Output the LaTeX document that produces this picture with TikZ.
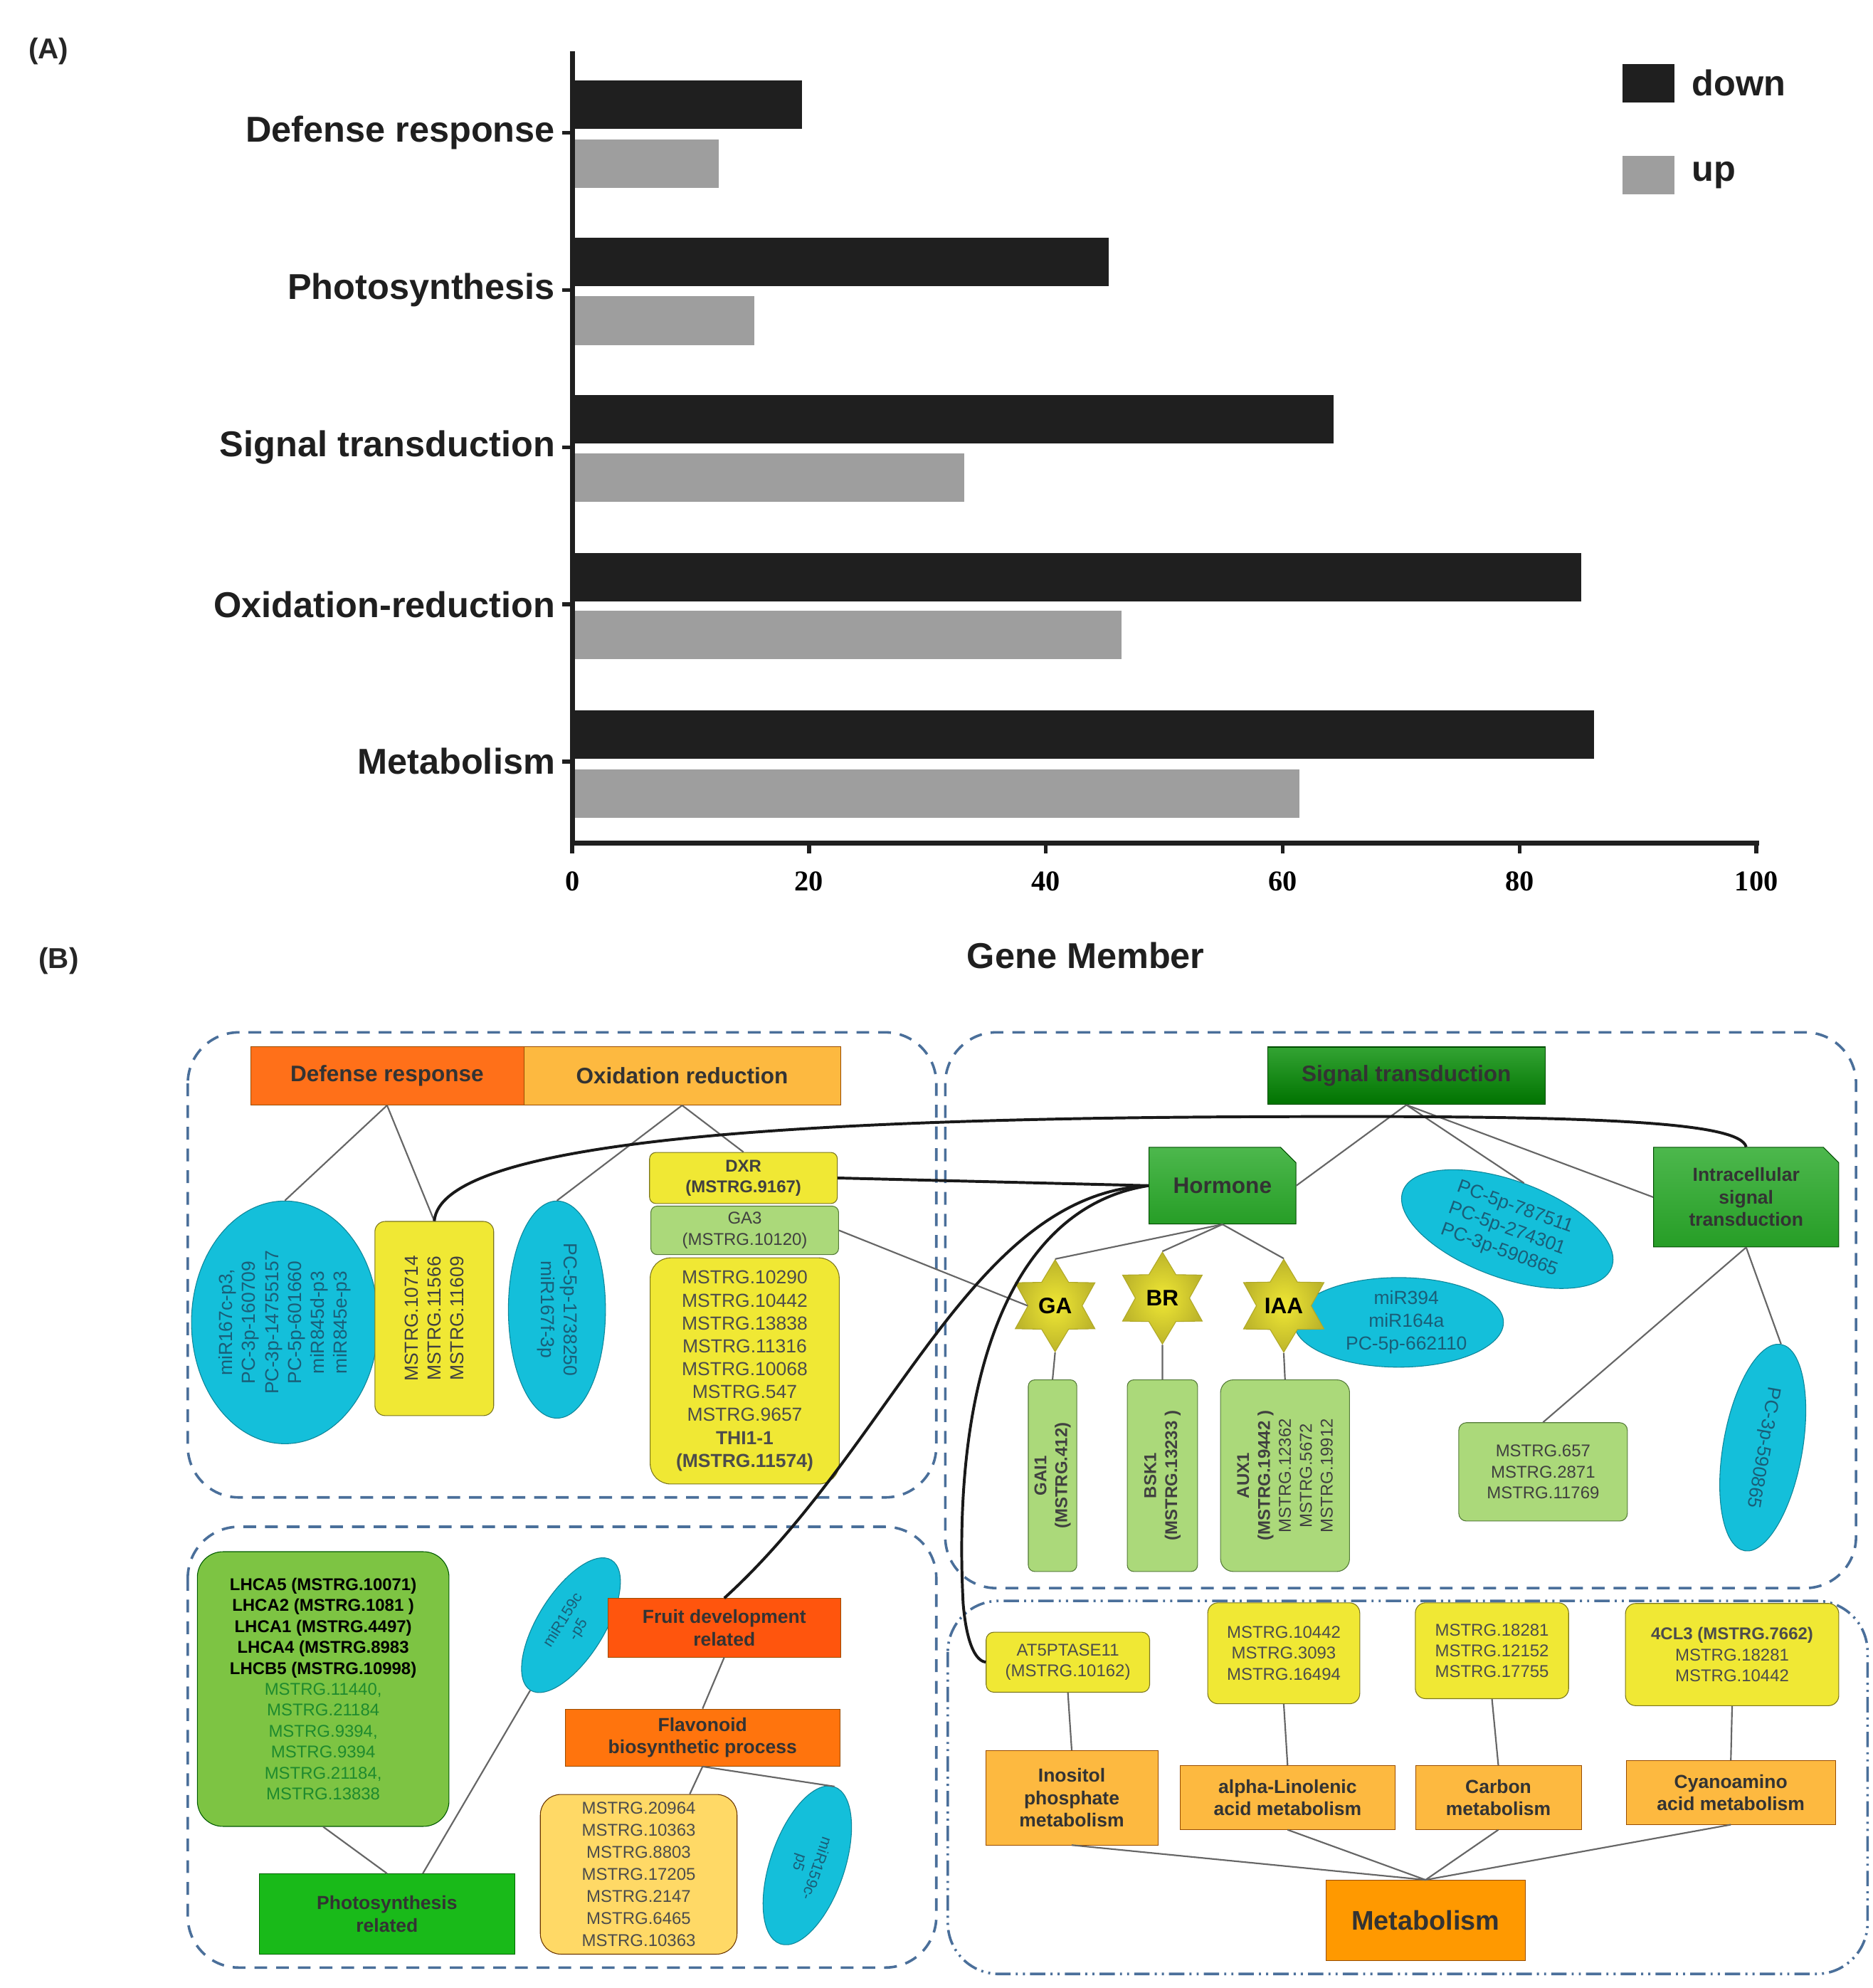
\documentclass[tikz,border=0pt]{standalone}
\usepackage{fontspec}
\setmainfont{Liberation Sans}
\newfontfamily\serifb{Liberation Serif}
\usetikzlibrary{shapes.geometric,shapes.misc}
\definecolor{boxblue}{HTML}{4A6F9A}
\definecolor{cy}{HTML}{14BFDA}
\definecolor{cytx}{HTML}{1A5E78}
\definecolor{yel}{HTML}{F0E834}
\definecolor{yelb}{HTML}{B0A828}
\definecolor{lg}{HTML}{ABD97A}
\definecolor{lgb}{HTML}{78AE50}
\definecolor{gl}{HTML}{7DC443}
\definecolor{gtx}{HTML}{1E8A2E}
\definecolor{orb}{HTML}{FDB940}
\newcommand\fH{\fontsize{25}{30}\selectfont\bfseries}
\newcommand\fL{\fontsize{21}{25.5}\selectfont}
\newcommand\fG{\fontsize{19}{23.3}\selectfont}
\newcommand\fM{\fontsize{21}{25}\selectfont\bfseries}
\newcommand\fBig{\fontsize{40}{46}\selectfont\bfseries}
\begin{document}
\begin{tikzpicture}[x=0.5mm,y=-0.5mm,
  dbox/.style={draw=boxblue,line width=1mm,dash pattern=on 5mm off 3.5mm,rounded corners=20mm},
  ddbox/.style={draw=boxblue,line width=1mm,dash pattern=on 6mm off 2mm on 0.8mm off 2mm on 0.8mm off 2mm,rounded corners=20mm},
  conn/.style={draw=black!60,line width=0.6mm},
  blk/.style={draw=black!90,line width=1.1mm},
  bx/.style={draw=#1!70!black,line width=0.3mm,inner sep=0pt,align=center},
  rbx/.style={bx=#1,rounded corners=4mm},
  hd/.style={inner sep=0pt,align=center,font=\fH,text=black!80},
  el/.style={ellipse,draw=cy!70!black,fill=cy,line width=0.3mm,inner sep=0pt,align=center,text=cytx,font=\fL},
  st/.style={star,star points=6,star point ratio=1.7,minimum size=36mm,draw=yelb,line width=0.3mm,inner color=yel,outer color=yelb!80!yel,inner sep=0pt,font=\fH},
  grn/.style={draw=green!30!black,line width=0.3mm,top color=green!55!black!80,bottom color=green!45!black,inner sep=0pt,align=center,font=\fH,text=black!80}
]
\useasboundingbox (0,0) rectangle (1466,1556);
\fill[white] (0,0) rectangle (1466,1556);
%% ---------- Part A ----------
\node[font=\fontsize{32}{36}\selectfont\bfseries,text=black!85] (lA) at (38,40) {(A)};
\node[font=\fontsize{32}{36}\selectfont\bfseries,text=black!85] (lB) at (46,752) {(B)};
\foreach \yd/\vd/\yu/\vu in {82/19.4/128/12.4, 205/45.3/251/15.4, 328/64.3/374/33.1, 452/85.2/497/46.4, 575/86.3/621/61.4}{
  \fill[black!88] (450,\yd-19) rectangle ({448+\vd*9.27},\yd+19);
  \fill[black!38!white] (450,\yu-19) rectangle ({448+\vu*9.27},\yu+19);
}
\draw[line width=2mm,black!88] (448,40) -- (448,660) -- (1377,660);
\foreach \v in {0,20,40,60,80,100}{
  \draw[line width=1.5mm,black!88] ({448+\v*9.27},660) -- ({448+\v*9.27},668);
  \node[font=\serifb\fontsize{32}{36}\selectfont\bfseries] (t\v) at ({448+\v*9.27},690) {\v};
}
\foreach \y/\t in {104/Defense response,227/Photosynthesis,350/Signal transduction,473/Oxidation-reduction,596/Metabolism}{
  \draw[line width=1.5mm,black!88] (440,\y) -- (448,\y);
  \node[anchor=east,font=\fBig,black!88] (c\y) at (437,\y) {\t};
}
\node[font=\fBig,black!88] (gm) at (850,748) {Gene Member};
\fill[black!88] (1270,50) rectangle (1311,80);
\fill[black!38!white] (1270,122) rectangle (1311,152);
\node[anchor=west,font=\fBig,black!88] (ldown) at (1322,65) {down};
\node[anchor=west,font=\fBig,black!88] (lup) at (1322,137) {up};
%% ---------- Part B frames ----------
\draw[dbox] (147,808) rectangle (733,1172);
\draw[dbox] (740,808) rectangle (1453,1243);
\draw[dbox] (147,1195) rectangle (733,1540);
\draw[ddbox] (742,1253) rectangle (1462,1545);
%% ---------- box 1 ----------
\node[hd,fill=orange!75!red!90!white,draw=orange!60!black,minimum width=107mm,minimum height=23mm] (def) at (303,842) {Defense response};
\node[hd,fill=orb,draw=orange!60!black,minimum width=124mm,minimum height=23mm] (oxi) at (534,842) {Oxidation reduction};
\node[el,rotate=90,minimum width=95mm,minimum height=62mm] (e1) at (223,1035) {miR167c-p3,\\PC-3p-160709\\PC-3p-14755157\\PC-5p-601660\\miR845d-p3\\miR845e-p3};
\node[rbx=yelb,fill=yel,minimum width=46.5mm,minimum height=76mm] (y1) at (340,1032) {};
\node[rotate=90,align=center,font=\fL,text=black!75] (y1t) at (y1.center) {MSTRG.10714\\MSTRG.11566\\MSTRG.11609};
\node[el,rotate=-90,minimum width=85mm,minimum height=38mm] (e2) at (436,1025) {PC-5p-1738250\\miR167f-3p};
\node[rbx=yelb,fill=yel,minimum width=73.5mm,minimum height=20mm,font=\fG\bfseries,text=black!75,rounded corners=2.5mm] (dxr) at (582,922) {DXR\\(MSTRG.9167)};
\node[rbx=lgb,fill=lg,minimum width=73.5mm,minimum height=19mm,font=\fG,text=black!75,rounded corners=2.5mm] (ga3) at (583,963) {GA3\\(MSTRG.10120)};
\node[rbx=yelb,fill=yel,minimum width=74mm,minimum height=88.5mm,font=\fL,text=black!70,rounded corners=8mm] (ylist) at (583,1073) {MSTRG.10290\\MSTRG.10442\\MSTRG.13838\\MSTRG.11316\\MSTRG.10068\\MSTRG.547\\MSTRG.9657\\\textbf{THI1-1}\\\textbf{(MSTRG.11574)}};
\draw[conn] (def.south) -- (e1.east);
\draw[conn] (def.south) -- (y1.north);
\draw[conn] (oxi.south) -- (e2.west);
\draw[conn] (oxi.south) -- (dxr.north);
%% ---------- box 2 ----------
\node[grn,minimum width=108.5mm,minimum height=22.5mm] (sig) at (1101,842) {Signal transduction};
\node[grn,chamfered rectangle,chamfered rectangle corners=north east,chamfered rectangle xsep=3mm,chamfered rectangle ysep=3mm,minimum width=57.5mm,minimum height=30mm,top color=green!60!black!70,bottom color=green!55!black!85] (hor) at (957,928) {Hormone};
\node[grn,chamfered rectangle,chamfered rectangle corners=north east,chamfered rectangle xsep=3mm,chamfered rectangle ysep=3mm,minimum width=72.5mm,minimum height=39mm,font=\fM,top color=green!60!black!70,bottom color=green!55!black!85] (intra) at (1367,937) {Intracellular\\signal\\transduction};
\node[el,rotate=-20,minimum width=87mm,minimum height=38mm] (e3) at (1180,962) {PC-5p-787511\\PC-5p-274301\\PC-3p-590865};
\node[el,minimum width=82mm,minimum height=33mm] (e4) at (1095,1035) {\hspace*{6mm}miR394\\\hspace*{6mm}miR164a\\\hspace*{6mm}PC-5p-662110};
\node[st] (ga) at (826,1022) {GA};
\node[st] (br) at (910,1016) {BR};
\node[st] (iaa) at (1005,1022) {IAA};
\node[rbx=lgb,fill=lg,minimum width=19mm,minimum height=75mm,rounded corners=2.5mm] (gai) at (824,1155) {};
\node[rotate=90,align=center,font=\fG\bfseries,text=black!75] (gait) at (gai.center) {GAI1\\(MSTRG.412)};
\node[rbx=lgb,fill=lg,minimum width=27.5mm,minimum height=75mm,rounded corners=2.5mm] (bsk) at (910,1155) {};
\node[rotate=90,align=center,font=\fG\bfseries,text=black!75] (bskt) at (bsk.center) {BSK1\\(MSTRG.13233 )};
\node[rbx=lgb,fill=lg,minimum width=50.5mm,minimum height=75mm,rounded corners=5mm] (aux) at (1006,1155) {};
\node[rotate=90,align=center,font=\fG,text=black!75] (auxt) at (aux.center) {\textbf{AUX1}\\\textbf{(MSTRG.19442 )}\\MSTRG.12362\\MSTRG.5672\\MSTRG.19912};
\node[rbx=lgb,fill=lg,minimum width=66mm,minimum height=38.5mm,font=\fG,text=black!75,rounded corners=3mm] (m657) at (1208,1152) {MSTRG.657\\MSTRG.2871\\MSTRG.11769};
\node[el,rotate=-100,minimum width=82mm,minimum height=31mm] (e5) at (1380,1133) {PC-3p-590865};
\draw[conn] (sig.south) -- (hor.east);
\draw[conn] (sig.south) -- (e3.north);
\draw[conn] (sig.south) -- (intra.west);
\draw[conn] (hor.south) -- (ga.north);
\draw[conn] (hor.south) -- (br.north);
\draw[conn] (hor.south) -- (iaa.north);
\draw[conn] (ga.south) -- (gai.north);
\draw[conn] (br.south) -- (bsk.north);
\draw[conn] (iaa.south) -- (aux.north);
\draw[conn] (intra.south) -- (m657.north);
\draw[conn] (intra.south) -- (e5.west);
\draw[conn] (ga3.east) -- (ga.west);
%% ---------- box 3 ----------
\node[rbx=green!50!black,fill=gl,minimum width=98.5mm,minimum height=107.5mm,rounded corners=10mm,font=\fG] (glist) at (253,1322) {\textbf{LHCA5 (MSTRG.10071)}\\\textbf{LHCA2 (MSTRG.1081 )}\\\textbf{LHCA1 (MSTRG.4497)}\\\textbf{LHCA4 (MSTRG.8983}\\\textbf{LHCB5 (MSTRG.10998)}\\\textcolor{gtx}{MSTRG.11440,}\\\textcolor{gtx}{MSTRG.21184}\\\textcolor{gtx}{MSTRG.9394,}\\\textcolor{gtx}{MSTRG.9394}\\\textcolor{gtx}{MSTRG.21184,}\\\textcolor{gtx}{MSTRG.13838}};
\node[el,rotate=58,minimum width=60mm,minimum height=26mm,font=\fontsize{17}{20}\selectfont] (e6) at (447,1272) {miR159c\\-p5};
\node[hd,fill=orange!60!red!95!white,draw=orange!60!black,minimum width=91mm,minimum height=23mm,font=\fM] (fruit) at (567,1274) {Fruit development\\related};
\node[hd,fill=orange!85!red!95!white,draw=orange!60!black,minimum width=107.5mm,minimum height=22.5mm,font=\fM] (flav) at (550,1360) {Flavonoid\\biosynthetic process};
\node[rbx=orange!60!black,fill=orange!50!yellow!60!white,minimum width=77mm,minimum height=62.5mm,rounded corners=8mm,font=\fontsize{19}{24.5}\selectfont,text=black!70] (olist) at (500,1467) {MSTRG.20964\\MSTRG.10363\\MSTRG.8803\\MSTRG.17205\\MSTRG.2147\\MSTRG.6465\\MSTRG.10363};
\node[el,rotate=-109,minimum width=65mm,minimum height=29mm,font=\fontsize{17}{20}\selectfont] (e7) at (632,1460) {miR159c-\\p5};
\node[hd,fill=green!70!black!90,draw=green!40!black,minimum width=100mm,minimum height=31.5mm,font=\fM] (photo) at (303,1498) {Photosynthesis\\related};
\draw[conn] (glist.south) -- (photo.north);
\draw[conn] (e6.west) -- ([xshift=14mm]photo.north);
\draw[conn] (fruit.south) -- (flav.north);
\draw[conn] (flav.south) -- ([xshift=20mm]olist.north);
\draw[conn] (flav.south) -- (e7.west);
%% ---------- box 4 ----------
\node[rbx=yelb,fill=yel,minimum width=64mm,minimum height=23.5mm,font=\fG,text=black!70,rounded corners=3mm] (at5) at (836,1301) {AT5PTASE11\\(MSTRG.10162)};
\node[rbx=yelb,fill=yel,minimum width=59.5mm,minimum height=39.5mm,font=\fG,text=black!70,rounded corners=4mm] (m10442) at (1005,1294) {MSTRG.10442\\MSTRG.3093\\MSTRG.16494};
\node[rbx=yelb,fill=yel,minimum width=60mm,minimum height=37.5mm,font=\fG,text=black!70,rounded corners=4mm] (m18281) at (1168,1292) {MSTRG.18281\\MSTRG.12152\\MSTRG.17755};
\node[rbx=yelb,fill=yel,minimum width=83.5mm,minimum height=40mm,font=\fG,text=black!70,rounded corners=4mm] (cl3) at (1356,1295) {\textbf{4CL3 (MSTRG.7662)}\\MSTRG.18281\\MSTRG.10442};
\node[hd,fill=orb,draw=orange!60!black,minimum width=67.5mm,minimum height=37mm,font=\fM] (ino) at (839,1407) {Inositol\\phosphate\\metabolism};
\node[hd,fill=orb,draw=orange!60!black,minimum width=84mm,minimum height=25mm,font=\fM] (alpha) at (1008,1407) {alpha-Linolenic\\acid metabolism};
\node[hd,fill=orb,draw=orange!60!black,minimum width=65mm,minimum height=25mm,font=\fM] (carb) at (1173,1407) {Carbon\\metabolism};
\node[hd,fill=orb,draw=orange!60!black,minimum width=82mm,minimum height=25mm,font=\fM] (cyano) at (1355,1403) {Cyanoamino\\acid metabolism};
\node[hd,fill=orange!80!yellow,draw=orange!60!black,minimum width=78mm,minimum height=31.5mm,font=\fontsize{30}{34}\selectfont\bfseries] (met) at (1116,1503) {Metabolism};
\draw[conn] (at5.south) -- (ino.north);
\draw[conn] (m10442.south) -- (alpha.north);
\draw[conn] (m18281.south) -- (carb.north);
\draw[conn] (cl3.south) -- (cyano.north);
\foreach \n in {ino,alpha,carb,cyano} \draw[conn] (\n.south) -- (met.north);
%% ---------- black connectors ----------
\draw[blk] (y1.north) .. controls (345,895) and (600,875) .. (1000,874) .. controls (1250,873) and (1362,878) .. (intra.north);
\draw[blk] (dxr.east) -- (hor.west);
\draw[blk] (hor.west) .. controls (760,935) and (700,1130) .. (fruit.north);
\draw[blk] (hor.west) .. controls (790,945) and (745,1080) .. (754,1255) .. controls (757,1290) and (765,1300) .. (at5.west);
\end{tikzpicture}
\end{document}
